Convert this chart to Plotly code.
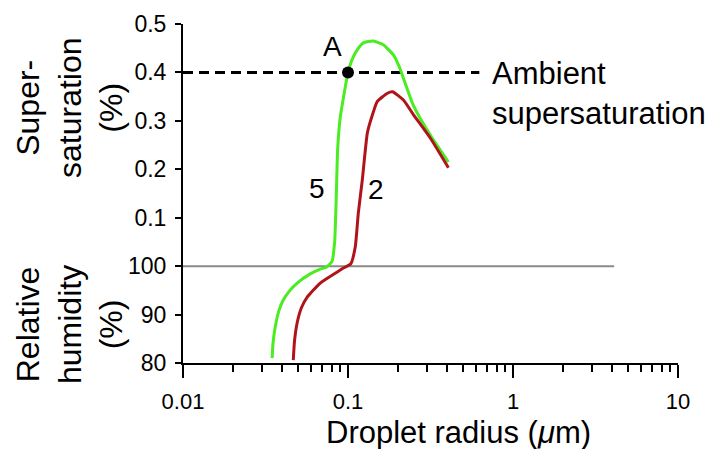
import plotly.graph_objects as go

# ---- data ----
# Droplet radius (um) and relative humidity (%) for the sub-saturated branch
green_rh_r = [0.0347, 0.0351, 0.0362, 0.0380, 0.0405, 0.0445, 0.0492, 0.0590, 0.0679, 0.0740]
green_rh = [81.0, 84.0, 87.4, 90.6, 93.0, 95.0, 96.5, 98.4, 99.4, 99.8]
# Droplet radius (um) and supersaturation (%) for the supersaturated branch
green_ss_r = [0.0800, 0.0830, 0.0850, 0.0865, 0.0898, 0.0963, 0.1000, 0.1057,
              0.1134, 0.1239, 0.1424, 0.1637, 0.1884, 0.2049, 0.2490, 0.3160, 0.4060]
green_ss = [0.010, 0.050, 0.150, 0.240, 0.308, 0.370, 0.400, 0.426,
            0.446, 0.461, 0.465, 0.457, 0.436, 0.411, 0.332, 0.270, 0.215]

red_rh_r = [0.0466, 0.0474, 0.0492, 0.0522, 0.0566, 0.0679, 0.0861, 0.0937]
red_rh = [80.6, 84.5, 88.3, 91.4, 93.6, 96.5, 98.8, 99.6]
red_ss_r = [0.1040, 0.1107, 0.1155, 0.1221, 0.1310, 0.1405, 0.1506, 0.1733,
            0.1860, 0.2167, 0.2490, 0.3160, 0.4060]
red_ss = [0.005, 0.040, 0.110, 0.178, 0.275, 0.312, 0.340, 0.357,
          0.360, 0.343, 0.313, 0.264, 0.203]

ambient_ss = 0.4
ambient_r = [0.01, 0.625]
saturation_rh = 100
saturation_r = [0.01, 4.1]
point_a_r = 0.1
point_a_ss = 0.4

x_tickvals = [0.01, 0.1, 1, 10]
x_ticktext = ["0.01", "0.1", "1", "10"]
x_minor = [k * 10 ** e for e in (-2, -1, 0) for k in range(2, 10)]
y_ticktext = ["80", "90", "100", "0.1", "0.2", "0.3", "0.4", "0.5"]


# composite vertical scale: 80..100 % RH below, 0..0.5 % supersaturation above
def rh_to_y(v):
    return (v - 80) / 10.0


def ss_to_y(v):
    return 2 + v * 10.0


GREEN = "#4aec22"
RED = "#b0141b"
FONT = "Liberation Sans, Arial, sans-serif"

fig = go.Figure()

fig.add_trace(go.Scatter(x=saturation_r, y=[rh_to_y(saturation_rh)] * 2, mode="lines",
                         line=dict(color="#8a8a8a", width=2), hoverinfo="skip"))
fig.add_trace(go.Scatter(x=ambient_r, y=[ss_to_y(ambient_ss)] * 2, mode="lines",
                         line=dict(color="black", width=3, dash="10px,6px"), hoverinfo="skip"))
fig.add_trace(go.Scatter(x=green_rh_r + green_ss_r,
                         y=[rh_to_y(v) for v in green_rh] + [ss_to_y(v) for v in green_ss],
                         mode="lines", line=dict(color=GREEN, width=3, shape="spline", smoothing=0.5)))
fig.add_trace(go.Scatter(x=red_rh_r + red_ss_r,
                         y=[rh_to_y(v) for v in red_rh] + [ss_to_y(v) for v in red_ss],
                         mode="lines", line=dict(color=RED, width=3, shape="spline", smoothing=0.5)))
fig.add_trace(go.Scatter(x=[point_a_r], y=[ss_to_y(point_a_ss)], mode="markers",
                         marker=dict(color="black", size=12)))

W, H = 722, 449
L, R, T, B = 183, 44, 24, 86
pw, ph = W - L - R, H - T - B


def px(x):
    return (x - L) / pw


def py(y):
    return (H - B - y) / ph


annotations = [
    dict(text="Super-<br>saturation<br>(%)", x=px(69), y=py(108), textangle=-90,
         font=dict(size=32)),
    dict(text="Relative<br>humidity<br>(%)", x=px(69), y=py(325), textangle=-90,
         font=dict(size=32)),
    dict(text="Droplet radius (<i>μ</i>m)", x=px(458), y=py(432), font=dict(size=31)),
    dict(text="Ambient<br>supersaturation", x=px(490), y=py(93), xanchor="left",
         align="left", font=dict(size=31)),
    dict(text="A", x=px(332), y=py(47), font=dict(size=28)),
    dict(text="5", x=px(317), y=py(188), font=dict(size=28)),
    dict(text="2", x=px(376), y=py(189), font=dict(size=28)),
]
for a in annotations:
    a.update(xref="paper", yref="paper", showarrow=False)
    a.setdefault("xanchor", "center")
    a.setdefault("yanchor", "middle")

fig.update_layout(
    width=W, height=H,
    margin=dict(l=L, r=R, t=T, b=B, pad=0),
    paper_bgcolor="white", plot_bgcolor="white",
    showlegend=False,
    font=dict(family=FONT, color="black"),
    annotations=annotations,
    xaxis=dict(type="log", range=[-2, 1], showgrid=False, zeroline=False,
               showline=True, linecolor="black", linewidth=2,
               ticks="outside", ticklen=13, tickwidth=2, tickcolor="black",
               tickvals=x_tickvals, ticktext=x_ticktext,
               tickfont=dict(size=22), ticklabelstandoff=5,
               minor=dict(tickvals=x_minor, ticks="outside", ticklen=7,
                          tickwidth=2, tickcolor="black", showgrid=False)),
    yaxis=dict(range=[0, 7], showgrid=False, zeroline=False,
               showline=True, linecolor="black", linewidth=2,
               ticks="outside", ticklen=6, tickwidth=2, tickcolor="black",
               tickvals=list(range(8)), ticktext=y_ticktext,
               tickfont=dict(size=23), ticklabelstandoff=4),
)

fig.write_html("out.html")
